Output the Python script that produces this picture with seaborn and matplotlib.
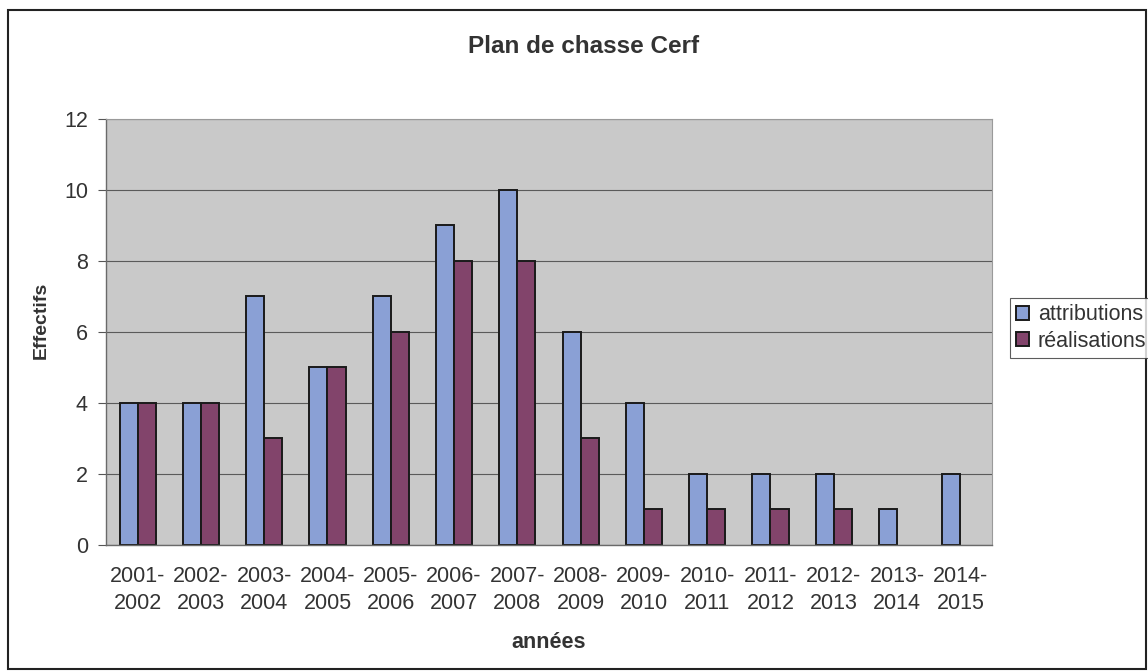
import numpy as np
import pandas as pd
import matplotlib
matplotlib.use("Agg")
import matplotlib.pyplot as plt
import seaborn as sns
from matplotlib.patches import Rectangle

# Données du plan de chasse
saisons = ['2001-\n2002', '2002-\n2003', '2003-\n2004', '2004-\n2005', '2005-\n2006',
           '2006-\n2007', '2007-\n2008', '2008-\n2009', '2009-\n2010', '2010-\n2011',
           '2011-\n2012', '2012-\n2013', '2013-\n2014', '2014-\n2015']
attributions = [4, 4, 7, 5, 7, 9, 10, 6, 4, 2, 2, 2, 1, 2]
realisations = [4, 4, 3, 5, 6, 8, 8, 3, 1, 1, 1, 1, np.nan, np.nan]

df = pd.DataFrame({
    'saison': saisons * 2,
    'valeur': attributions + realisations,
    'serie': ['attributions'] * len(saisons) + ['réalisations'] * len(saisons),
})

sns.set_style('white')
plt.rcParams['font.family'] = ['Liberation Sans', 'DejaVu Sans']
txt_col = '#333333'

fig = plt.figure(figsize=(11.48, 6.71), dpi=100)
ax = fig.add_axes([0.0923, 0.1878, 0.7718, 0.6349])

sns.barplot(data=df, x='saison', y='valeur', hue='serie',
            palette={'attributions': '#7D9BE2', 'réalisations': '#8C3A6E'},
            width=0.57, edgecolor='#1a1a1a', linewidth=1.4, ax=ax,
            errorbar=None, legend=True)

ax.set_facecolor('#C9C9C9')
ax.set_ylim(0, 12)
ax.set_xlim(-0.5, len(saisons) - 0.5)
ax.set_yticks(range(0, 13, 2))
ax.yaxis.grid(True, color='#5a5a5a', linewidth=0.8)
ax.set_axisbelow(True)
for s in ['top', 'right']:
    ax.spines[s].set_color('#9a9a9a')
    ax.spines[s].set_linewidth(0.8)
for s in ['left', 'bottom']:
    ax.spines[s].set_color('#6a6a6a')
    ax.spines[s].set_linewidth(1.0)

ax.tick_params(axis='x', which='major', length=0, labelsize=15.5, pad=15, labelcolor=txt_col)
ax.set_xticks(np.arange(-0.5, len(saisons)), minor=True)
ax.tick_params(axis='x', which='minor', length=6, color='#555555', direction='out')
ax.tick_params(axis='y', length=6, color='#555555', direction='out', labelsize=15.5,
               left=True, pad=7, labelcolor=txt_col)
ax.set_xticklabels(saisons, linespacing=1.4)

ax.set_xlabel('')
ax.set_ylabel('')
fig.text(0.478, 0.043, 'années', fontsize=15.5, fontweight='bold', color=txt_col,
         ha='center', va='center')
fig.text(0.036, 0.523, 'Effectifs', fontsize=14, fontweight='bold', color=txt_col,
         ha='center', va='center', rotation=90)
fig.text(0.508, 0.93, 'Plan de chasse Cerf', fontsize=17.5, fontweight='bold',
         color=txt_col, ha='center', va='center')

handles, labels = ax.get_legend_handles_labels()
ax.get_legend().remove()
leg = fig.legend(handles, labels, loc='center left', bbox_to_anchor=(0.8798, 0.511),
                 fontsize=15.5, frameon=True, fancybox=False, edgecolor='#333333',
                 handlelength=0.6, handleheight=0.6, handletextpad=0.4,
                 borderpad=0.3, labelspacing=0.25, borderaxespad=0)
leg.get_frame().set_linewidth(0.8)
for t in leg.get_texts():
    t.set_color(txt_col)

# cadre du graphique
fig.patches.append(Rectangle((0.007, 0.003), 0.991, 0.982, transform=fig.transFigure,
                             fill=False, edgecolor='#222222', linewidth=1.5))

fig.savefig('out.png', dpi=100)
